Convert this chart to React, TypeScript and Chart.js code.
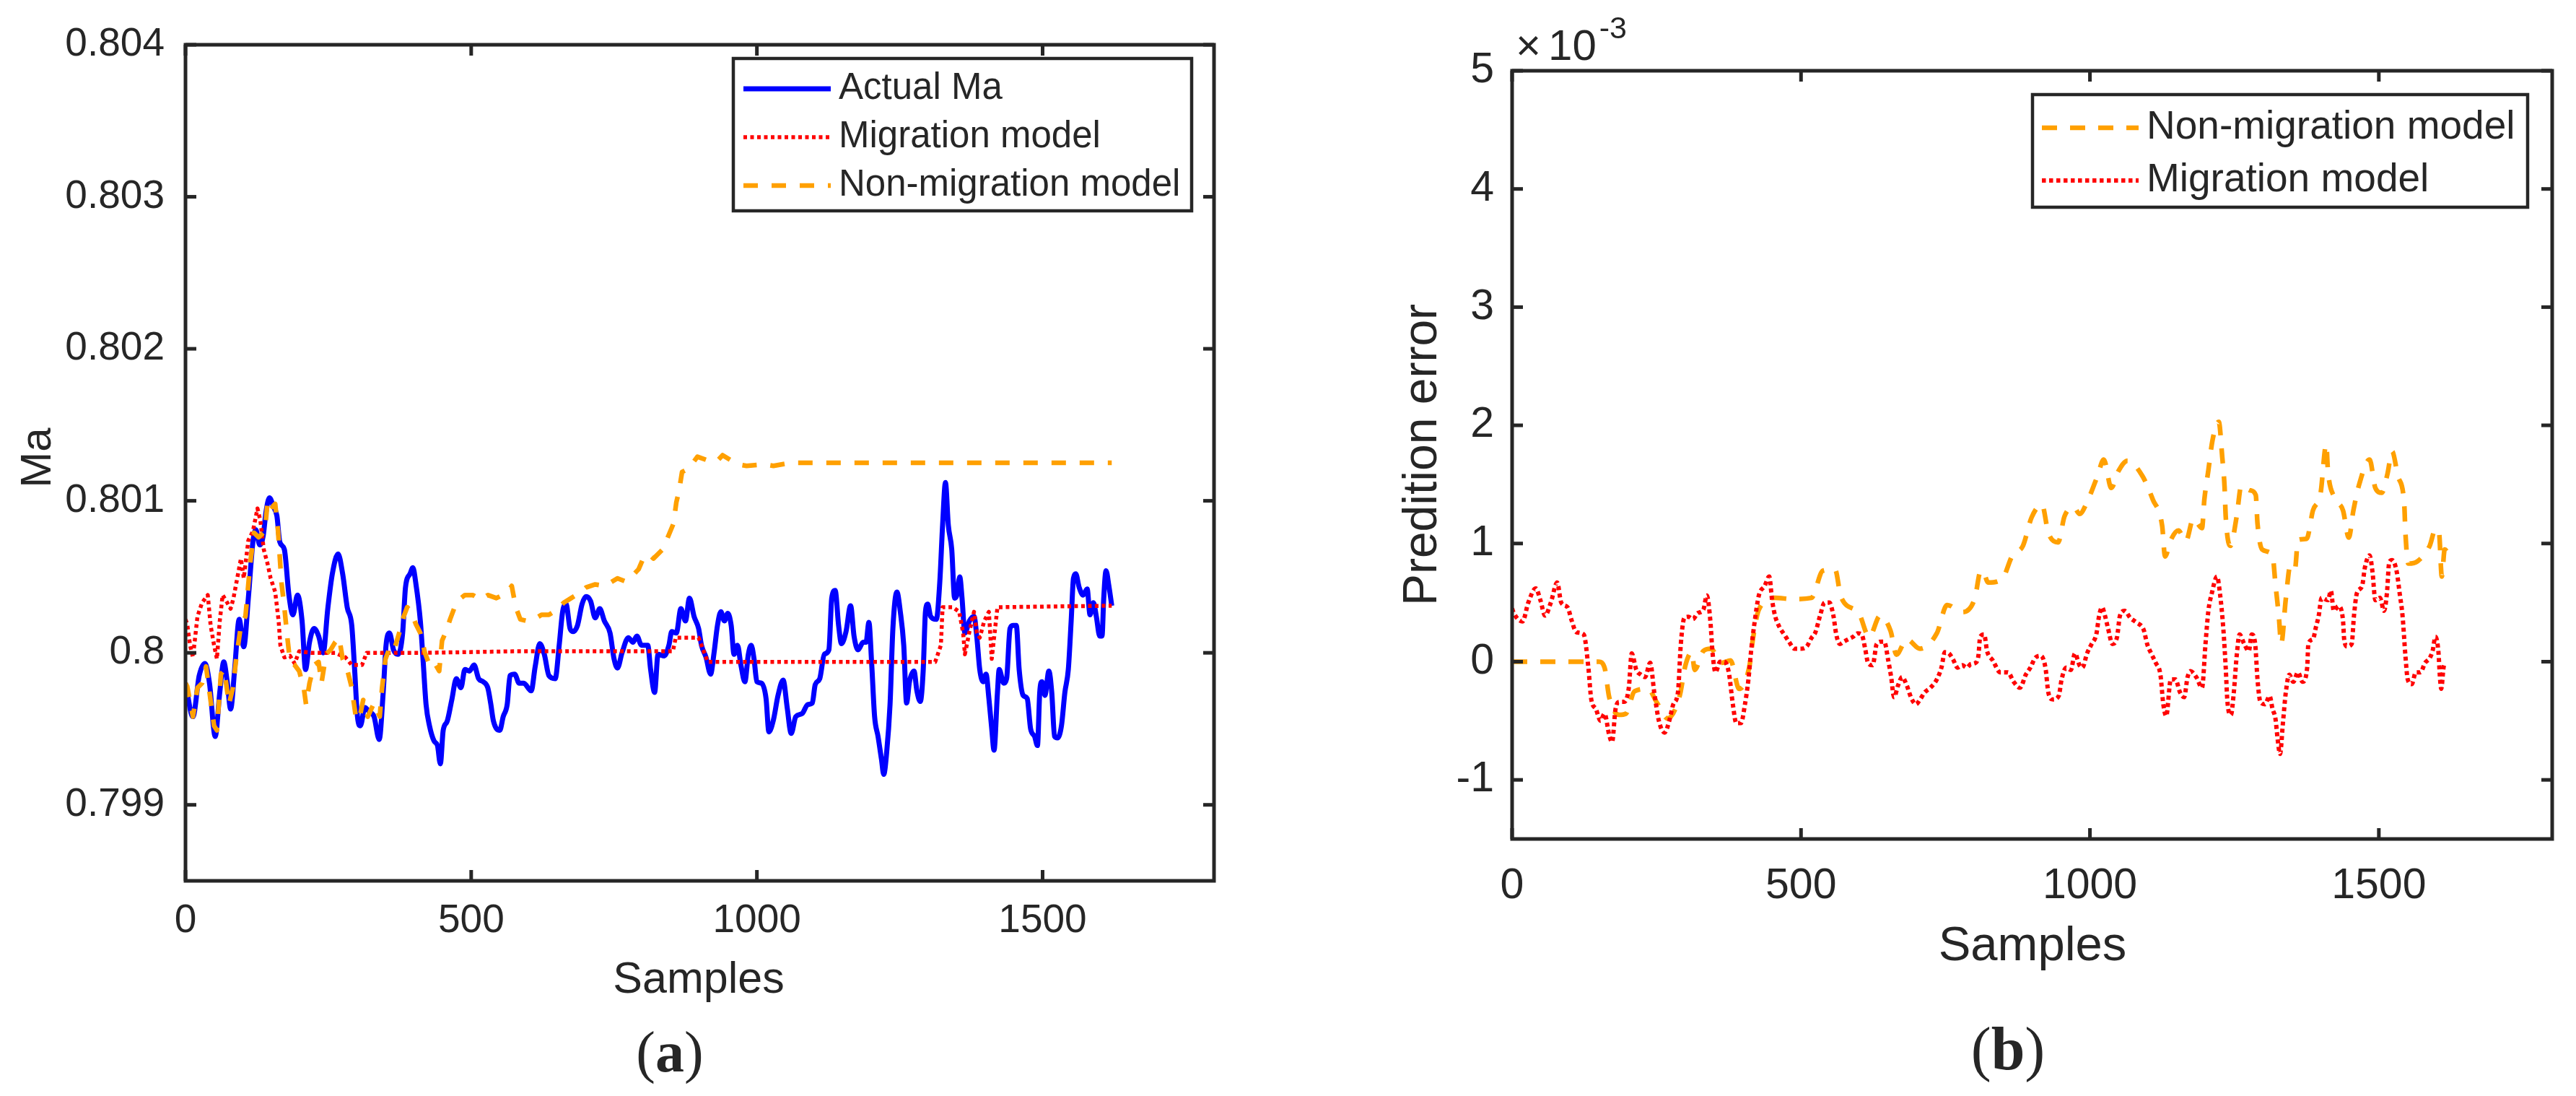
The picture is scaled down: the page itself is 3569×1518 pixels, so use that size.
import React, { useEffect, useRef } from 'react';
import { Chart, ChartConfiguration, Plugin, registerables } from 'chart.js';

Chart.register(...registerables);

const SANS = '"Liberation Sans", Arial, Helvetica, sans-serif';
const SERIF = '"Liberation Serif", "Times New Roman", serif';
const INK = '#262626';
const BLUE = '#0000FF';
const RED = '#FF0000';
const ORANGE = '#FFA000';

// shared x axis
const sampleTicks = [0, 500, 1000, 1500];
const sampleMax = 1800;

// (a) Mach number
const maTicks = [0.799, 0.8, 0.801, 0.802, 0.803, 0.804];
const actualX = [0,13,24,34,42,52,60,67,73,79,86,94,102,110,118,123,130,136,141,147,154,160,165,173,181,188,196,204,210,217,225,233,241,249,257,267,275,283,291,296,301,306,314,322,330,339,346,351,357,364,372,380,385,393,398,403,411,416,421,427,435,441,446,451,458,466,474,482,489,497,505,513,521,529,534,539,550,556,563,568,576,584,592,605,612,620,628,636,647,654,660,666,673,678,686,694,701,709,717,725,733,743,750,756,764,775,783,790,798,809,814,821,827,838,846,851,859,867,875,882,890,898,903,911,919,925,931,937,943,949,955,960,966,972,979,985,990,995,1000,1008,1016,1021,1029,1037,1046,1053,1060,1068,1079,1089,1097,1102,1110,1118,1126,1131,1137,1143,1148,1156,1164,1170,1177,1186,1191,1196,1201,1206,1212,1218,1222,1227,1233,1238,1245,1251,1257,1262,1267,1275,1280,1286,1291,1295,1299,1304,1314,1320,1325,1330,1335,1341,1346,1350,1355,1359,1364,1372,1380,1385,1390,1396,1401,1406,1411,1415,1421,1424,1432,1437,1443,1448,1454,1459,1466,1473,1479,1486,1491,1495,1499,1504,1511,1516,1521,1526,1533,1539,1545,1550,1554,1558,1564,1571,1578,1583,1589,1594,1600,1604,1607,1611,1616,1621];
const actualMa = [0.79980,0.79958,0.79985,0.79993,0.79980,0.79945,0.79974,0.79994,0.79981,0.79963,0.79989,0.80022,0.80004,0.80036,0.80073,0.80081,0.80071,0.80077,0.80093,0.80102,0.80096,0.80090,0.80073,0.80068,0.80038,0.80025,0.80038,0.80021,0.79989,0.80007,0.80016,0.80011,0.80000,0.80029,0.80052,0.80065,0.80052,0.80030,0.80018,0.79989,0.79958,0.79952,0.79964,0.79961,0.79958,0.79943,0.79974,0.80005,0.80013,0.80002,0.79999,0.80013,0.80043,0.80052,0.80056,0.80046,0.80021,0.79994,0.79966,0.79952,0.79942,0.79939,0.79927,0.79949,0.79955,0.79969,0.79983,0.79977,0.79989,0.79988,0.79992,0.79983,0.79981,0.79977,0.79967,0.79955,0.79949,0.79958,0.79966,0.79985,0.79986,0.79980,0.79980,0.79975,0.79991,0.80006,0.79999,0.79985,0.79983,0.80005,0.80027,0.80032,0.80016,0.80014,0.80018,0.80032,0.80037,0.80034,0.80023,0.80029,0.80021,0.80013,0.79996,0.79990,0.80000,0.80010,0.80007,0.80011,0.80005,0.80005,0.79989,0.79974,0.79999,0.79998,0.80005,0.80014,0.80013,0.80029,0.80021,0.80036,0.80024,0.80016,0.80005,0.79997,0.79986,0.80000,0.80018,0.80027,0.80021,0.80026,0.80018,0.79999,0.80005,0.79992,0.79981,0.79999,0.80005,0.79996,0.79981,0.79980,0.79970,0.79948,0.79956,0.79972,0.79982,0.79964,0.79947,0.79958,0.79960,0.79966,0.79967,0.79979,0.79983,0.79999,0.80002,0.80036,0.80041,0.80018,0.80006,0.80014,0.80031,0.80011,0.80002,0.80007,0.80007,0.80020,0.79992,0.79958,0.79945,0.79930,0.79920,0.79934,0.79966,0.80016,0.80040,0.80027,0.80005,0.79967,0.79981,0.79988,0.79975,0.79968,0.79988,0.80027,0.80032,0.80024,0.80022,0.80046,0.80084,0.80112,0.80084,0.80068,0.80036,0.80038,0.80050,0.80036,0.80013,0.80021,0.80024,0.80010,0.79989,0.79981,0.79986,0.79970,0.79950,0.79936,0.79974,0.79989,0.79980,0.79983,0.80016,0.80018,0.80018,0.79989,0.79972,0.79970,0.79950,0.79945,0.79939,0.79974,0.79981,0.79972,0.79988,0.79974,0.79945,0.79944,0.79952,0.79974,0.79989,0.80021,0.80049,0.80052,0.80043,0.80038,0.80042,0.80025,0.80033,0.80024,0.80011,0.80011,0.80036,0.80054,0.80044,0.80031];
const migX = [0,3,8,13,21,29,39,44,50,55,60,65,73,79,84,92,97,102,110,118,126,131,137,144,149,157,163,166,173,183,191,199,220,262,280,291,309,317,419,576,853,858,861,898,906,914,1312,1322,1325,1343,1354,1361,1364,1372,1380,1385,1390,1398,1406,1411,1416,1421,1621];
const migMa = [0.80022,0.80019,0.80005,0.79997,0.80024,0.80033,0.80038,0.80018,0.80005,0.79996,0.80021,0.80038,0.80033,0.80029,0.80036,0.80052,0.80062,0.80049,0.80074,0.80080,0.80095,0.80087,0.80068,0.80058,0.80049,0.80040,0.80021,0.80005,0.79997,0.79998,0.79993,0.80001,0.80000,0.80000,0.79997,0.79992,0.79992,0.80000,0.80000,0.80001,0.80001,0.80010,0.80010,0.80010,0.80002,0.79994,0.79994,0.80005,0.80030,0.80030,0.80027,0.80013,0.79999,0.80014,0.80027,0.80013,0.80010,0.80021,0.80027,0.79996,0.80013,0.80030,0.80031];
const nonMigX = [0,3,13,21,29,36,42,50,55,62,68,76,83,89,97,105,113,120,128,139,144,152,157,162,168,173,178,183,191,199,207,211,217,225,233,238,246,254,262,269,275,283,291,298,304,311,319,330,340,344,350,359,366,374,382,388,395,403,411,419,427,435,444,449,456,463,471,482,489,503,516,529,544,555,565,571,578,586,597,610,623,636,649,662,675,688,701,717,733,743,756,770,783,793,801,811,819,835,843,854,859,864,869,880,896,911,930,940,966,982,1013,1029,1060,1621];
const nonMigMa = [0.79980,0.79978,0.79958,0.79977,0.79980,0.79991,0.79974,0.79952,0.79949,0.79986,0.79989,0.79966,0.79977,0.79997,0.80018,0.80024,0.80058,0.80079,0.80076,0.80080,0.80101,0.80096,0.80098,0.80080,0.80046,0.80030,0.80011,0.79994,0.79992,0.79988,0.79977,0.79966,0.79980,0.79992,0.79994,0.79980,0.79999,0.80002,0.80007,0.80010,0.79996,0.79989,0.79977,0.79958,0.79956,0.79969,0.79958,0.79967,0.79958,0.79977,0.79996,0.80005,0.80003,0.80013,0.80024,0.80030,0.80027,0.80019,0.80013,0.80000,0.79992,0.79994,0.79988,0.80008,0.80014,0.80022,0.80030,0.80036,0.80038,0.80038,0.80035,0.80038,0.80036,0.80038,0.80041,0.80044,0.80030,0.80022,0.80021,0.80022,0.80025,0.80025,0.80028,0.80033,0.80036,0.80039,0.80043,0.80045,0.80044,0.80046,0.80049,0.80047,0.80051,0.80055,0.80062,0.80065,0.80062,0.80068,0.80075,0.80085,0.80099,0.80107,0.80119,0.80121,0.80129,0.80127,0.80126,0.80130,0.80124,0.80123,0.80124,0.80123,0.80125,0.80125];

// (b) prediction error, in units of 1e-3
const errTicks = [-1, 0, 1, 2, 3, 4, 5];
const errNonX = [0,119,150,160,168,185,197,212,235,251,269,290,300,311,316,331,344,362,378,393,411,417,427,455,486,518,538,559,569,600,618,637,655,665,683,706,735,753,779,801,810,814,824,848,866,884,899,917,928,945,956,972,982,995,1013,1024,1037,1049,1065,1091,1109,1125,1130,1140,1153,1166,1179,1194,1198,1205,1212,1223,1229,1233,1235,1243,1254,1262,1277,1287,1290,1298,1316,1321,1327,1331,1339,1347,1355,1360,1375,1386,1399,1409,1412,1423,1438,1448,1456,1466,1484,1494,1505,1515,1523,1533,1544,1546,1551,1567,1588,1598,1604,1609,1614,1620];
const errNon = [0,0,0,-0.05,-0.3,-0.45,-0.44,-0.25,-0.23,-0.35,-0.48,-0.29,-0.03,0.08,-0.07,0.09,0.11,-0.01,0.01,-0.23,-0.03,0.2,0.44,0.54,0.53,0.54,0.77,0.78,0.55,0.41,0.21,0.39,0.26,0.06,0.19,0.11,0.24,0.48,0.42,0.54,0.76,0.77,0.67,0.7,0.9,0.98,1.22,1.33,1.09,1.01,1.23,1.31,1.25,1.35,1.57,1.71,1.47,1.61,1.7,1.57,1.37,1.15,0.89,1.03,1.11,1.02,1.21,1.13,1.37,1.62,1.87,2.03,1.73,1.48,1.23,0.98,1.23,1.49,1.45,1.41,1.17,0.95,0.9,0.66,0.38,0.15,0.53,0.82,0.79,1.03,1.04,1.28,1.42,1.84,1.61,1.39,1.28,1.05,1.28,1.5,1.71,1.47,1.43,1.59,1.78,1.57,1.33,1.09,0.83,0.85,0.98,1.12,1.1,0.72,0.95,0.92];
const errMigX = [0,3,18,28,41,49,57,67,78,85,96,103,111,124,132,137,145,153,160,168,173,179,186,194,202,207,215,223,230,239,246,254,264,272,279,287,292,298,305,313,321,331,337,343,347,352,360,367,375,382,388,396,403,409,414,419,427,437,445,450,455,463,471,479,489,499,510,518,525,533,541,549,556,561,567,574,582,590,598,605,611,616,624,631,639,644,651,656,661,668,675,683,691,699,706,714,724,735,743,749,756,763,771,779,787,794,802,807,810,817,822,832,845,858,868,879,889,897,905,915,923,928,936,946,951,959,967,974,982,987,995,1003,1011,1016,1021,1026,1031,1039,1047,1052,1060,1070,1081,1093,1099,1106,1114,1122,1127,1132,1140,1148,1156,1163,1169,1174,1184,1194,1200,1205,1211,1220,1225,1231,1235,1238,1244,1249,1254,1259,1267,1275,1280,1286,1290,1295,1303,1311,1316,1321,1325,1329,1334,1339,1345,1352,1360,1368,1376,1378,1386,1391,1396,1401,1412,1417,1422,1430,1438,1440,1445,1453,1457,1462,1471,1476,1484,1489,1494,1502,1509,1514,1518,1523,1531,1536,1541,1546,1550,1557,1564,1572,1580,1588,1593,1598,1603,1606,1608,1612,1616];
const errMig = [0.45,0.41,0.34,0.50,0.62,0.52,0.39,0.50,0.67,0.50,0.46,0.35,0.25,0.23,-0.05,-0.32,-0.40,-0.50,-0.44,-0.62,-0.68,-0.40,-0.34,-0.34,-0.22,0.07,-0.07,-0.11,-0.13,-0.01,-0.26,-0.50,-0.60,-0.50,-0.36,-0.26,0.15,0.37,0.38,0.36,0.41,0.44,0.56,0.35,0.07,-0.09,0.00,0.00,-0.09,-0.36,-0.52,-0.52,-0.36,-0.15,0.11,0.31,0.56,0.64,0.72,0.52,0.39,0.29,0.23,0.17,0.11,0.11,0.13,0.20,0.25,0.39,0.50,0.50,0.39,0.23,0.15,0.17,0.19,0.21,0.24,0.23,0.11,-0.01,-0.03,0.15,0.17,0.17,0.01,-0.13,-0.30,-0.20,-0.13,-0.20,-0.31,-0.36,-0.32,-0.26,-0.22,-0.15,-0.05,0.08,0.07,0.02,-0.05,-0.03,-0.05,-0.02,-0.01,0.05,0.21,0.23,0.09,0.01,-0.09,-0.09,-0.17,-0.22,-0.11,-0.05,0.03,0.05,-0.05,-0.26,-0.32,-0.29,-0.15,-0.05,-0.07,0.07,-0.03,-0.05,0.07,0.15,0.23,0.39,0.46,0.39,0.29,0.15,0.21,0.39,0.43,0.37,0.33,0.27,0.15,0.07,-0.01,-0.11,-0.36,-0.46,-0.15,-0.15,-0.26,-0.30,-0.13,-0.08,-0.13,-0.22,0.15,0.43,0.58,0.72,0.58,0.27,-0.05,-0.34,-0.45,-0.26,0.05,0.23,0.15,0.09,0.23,0.15,-0.15,-0.34,-0.36,-0.29,-0.40,-0.48,-0.66,-0.78,-0.52,-0.26,-0.11,-0.17,-0.09,-0.17,-0.05,0.15,0.19,0.29,0.39,0.54,0.52,0.60,0.43,0.47,0.35,0.19,0.13,0.15,0.39,0.58,0.64,0.80,0.90,0.76,0.52,0.54,0.43,0.58,0.84,0.86,0.76,0.58,0.39,0.05,-0.15,-0.19,-0.09,-0.09,-0.01,0.03,0.09,0.21,0.09,-0.15,-0.23,-0.05,-0.01];

const toPoints = (xs: number[], ys: number[]) => xs.map((x, i) => ({ x, y: ys[i] }));

interface Series { label: string; color: string; width: number; dash: number[]; order: number; smooth: boolean; points: { x: number; y: number }[]; }
interface TextSpec { text: string; x: number; y: number; size: number; }
interface PanelSpec {
  pageLeft: number;
  width: number;
  height: number;
  area: { left: number; top: number; right: number; bottom: number };
  yMin: number;
  yMax: number;
  yTicks: number[];
  tickSize: number;
  yTickPad: number;
  xTickPad: number;
  series: Series[];
  legendOrder: number[];
  legend: { box: [number, number, number, number]; rows: number[]; sample: [number, number]; textX: number; size: number };
  xTitle: TextSpec;
  yTitle: TextSpec;
  caption: { letter: string; x: number; y: number; size: number };
  exponent?: { x: number; y: number; size: number };
}

const X_AXIS_H = 150;

const framePlugin = (p: PanelSpec): Plugin<'line'> => ({
  id: 'matlabFrame',
  afterDraw(chart) {
    const { ctx, chartArea: a } = chart;
    const xs = chart.scales.x;
    const ys = chart.scales.y;
    const seg = (x1: number, y1: number, x2: number, y2: number) => {
      ctx.beginPath();
      ctx.moveTo(x1, y1);
      ctx.lineTo(x2, y2);
      ctx.stroke();
    };
    ctx.save();
    ctx.strokeStyle = INK;
    ctx.lineWidth = 5;
    const tl = 15;
    sampleTicks.forEach((v) => {
      const px = xs.getPixelForValue(v);
      seg(px, a.bottom, px, a.bottom - tl);
      seg(px, a.top, px, a.top + tl);
    });
    p.yTicks.forEach((v) => {
      const py = ys.getPixelForValue(v);
      seg(a.left, py, a.left + tl, py);
      seg(a.right, py, a.right - tl, py);
    });
    ctx.strokeRect(a.left, a.top, a.right - a.left, a.bottom - a.top);

    // legend box, MATLAB style
    const [l, t, r, b] = p.legend.box;
    ctx.fillStyle = '#ffffff';
    ctx.fillRect(l, t, r - l, b - t);
    ctx.lineWidth = 4.5;
    ctx.strokeRect(l, t, r - l, b - t);
    ctx.font = `${p.legend.size}px ${SANS}`;
    ctx.textBaseline = 'middle';
    ctx.textAlign = 'left';
    p.legendOrder.forEach((si, i) => {
      const s = p.series[si];
      const y = p.legend.rows[i];
      ctx.save();
      ctx.strokeStyle = s.color;
      ctx.lineWidth = s.width;
      ctx.setLineDash(s.dash);
      seg(p.legend.sample[0], y, p.legend.sample[1], y);
      ctx.restore();
      ctx.fillStyle = INK;
      ctx.fillText(s.label, p.legend.textX, y);
    });

    // axis titles
    ctx.fillStyle = INK;
    ctx.textBaseline = 'alphabetic';
    ctx.textAlign = 'center';
    ctx.font = `${p.xTitle.size}px ${SANS}`;
    ctx.fillText(p.xTitle.text, p.xTitle.x, p.xTitle.y);
    ctx.save();
    ctx.translate(p.yTitle.x, p.yTitle.y);
    ctx.rotate(-Math.PI / 2);
    ctx.font = `${p.yTitle.size}px ${SANS}`;
    ctx.fillText(p.yTitle.text, 0, 0);
    ctx.restore();

    // exponent label
    if (p.exponent) {
      const e = p.exponent;
      ctx.textAlign = 'left';
      ctx.font = `${e.size}px ${SANS}`;
      ctx.fillText('\u00d7', e.x, e.y);
      const wx = ctx.measureText('\u00d7').width;
      ctx.fillText('10', e.x + wx + 10, e.y);
      const w10 = ctx.measureText('10').width;
      ctx.font = `${Math.round(e.size * 0.72)}px ${SANS}`;
      ctx.fillText('-3', e.x + wx + 10 + w10 + 4, e.y - e.size * 0.5);
    }

    // sub-figure caption: (a) / (b)
    const c = p.caption;
    const plain = `${c.size}px ${SERIF}`;
    const bold = `bold ${c.size}px ${SERIF}`;
    ctx.font = plain;
    const wp = ctx.measureText('(').width;
    const wq = ctx.measureText(')').width;
    ctx.font = bold;
    const wl = ctx.measureText(c.letter).width;
    let cx = c.x - (wp + wl + wq) / 2;
    ctx.textAlign = 'left';
    ctx.font = plain;
    ctx.fillText('(', cx, c.y);
    cx += wp;
    ctx.font = bold;
    ctx.fillText(c.letter, cx, c.y);
    cx += wl;
    ctx.font = plain;
    ctx.fillText(')', cx, c.y);
    ctx.restore();
  },
});

const Panel: React.FC<{ spec: PanelSpec }> = ({ spec }) => {
  const canvasRef = useRef<HTMLCanvasElement>(null);
  const chartRef = useRef<Chart | null>(null);

  useEffect(() => {
    if (!canvasRef.current) return;
    if (chartRef.current) chartRef.current.destroy();
    const ctx = canvasRef.current.getContext('2d');
    if (!ctx) return;

    const a = spec.area;
    const tickFont = { family: SANS, size: spec.tickSize };

    const config: ChartConfiguration<'line'> = {
      type: 'line',
      data: {
        datasets: spec.series.map((s) => ({
          label: s.label,
          data: s.points,
          borderColor: s.color,
          backgroundColor: s.color,
          borderWidth: s.width,
          borderDash: s.dash,
          borderCapStyle: 'butt',
          borderJoinStyle: 'round',
          pointRadius: 0,
          fill: false,
          order: s.order,
          tension: 0,
          cubicInterpolationMode: s.smooth ? 'monotone' : 'default',
        })),
      },
      options: {
        responsive: false,
        animation: false,
        devicePixelRatio: 1,
        events: [],
        layout: {
          padding: {
            left: 0,
            top: a.top,
            right: spec.width - a.right,
            bottom: spec.height - a.bottom - X_AXIS_H,
          },
        },
        plugins: {
          legend: { display: false },
          tooltip: { enabled: false },
        },
        scales: {
          x: {
            type: 'linear',
            min: 0,
            max: sampleMax,
            grid: { display: false, drawTicks: false },
            border: { display: false },
            ticks: {
              font: tickFont,
              color: INK,
              padding: spec.xTickPad,
              maxRotation: 0,
              autoSkip: false,
              callback: (v) => String(v),
            },
            afterBuildTicks: (s) => {
              s.ticks = sampleTicks.map((value) => ({ value }));
            },
            afterFit: (s) => {
              s.height = X_AXIS_H;
            },
          },
          y: {
            type: 'linear',
            min: spec.yMin,
            max: spec.yMax,
            grid: { display: false, drawTicks: false },
            border: { display: false },
            ticks: {
              font: tickFont,
              color: INK,
              padding: spec.yTickPad,
              autoSkip: false,
              callback: (v) => String(v),
            },
            afterBuildTicks: (s) => {
              s.ticks = spec.yTicks.map((value) => ({ value }));
            },
            afterFit: (s) => {
              s.width = a.left;
            },
          },
        },
      },
      plugins: [framePlugin(spec)],
    };

    chartRef.current = new Chart(ctx, config);
    return () => {
      if (chartRef.current) {
        chartRef.current.destroy();
        chartRef.current = null;
      }
    };
  }, [spec]);

  return (
    <canvas
      ref={canvasRef}
      width={spec.width}
      height={spec.height}
      style={{ position: 'absolute', left: spec.pageLeft, top: 0, width: spec.width, height: spec.height }}
    />
  );
};

const panelA: PanelSpec = {
  pageLeft: 0,
  width: 1785,
  height: 1518,
  area: { left: 257, top: 52, right: 1682, bottom: 1220 },
  yMin: 0.7985,
  yMax: 0.804,
  yTicks: maTicks,
  tickSize: 55,
  yTickPad: 29,
  xTickPad: 23,
  series: [
    { label: 'Actual Ma', color: BLUE, width: 7, dash: [], order: 3, smooth: true, points: toPoints(actualX, actualMa) },
    { label: 'Migration model', color: RED, width: 5.5, dash: [5, 4.5], order: 2, smooth: false, points: toPoints(migX, migMa) },
    { label: 'Non-migration model', color: ORANGE, width: 6.5, dash: [20, 19], order: 1, smooth: false, points: toPoints(nonMigX, nonMigMa) },
  ],
  legendOrder: [0, 1, 2],
  legend: { box: [1016, 81, 1651, 292], rows: [123, 190, 257], sample: [1030, 1151], textX: 1162, size: 51 },
  xTitle: { text: 'Samples', x: 968, y: 1375, size: 61 },
  yTitle: { text: 'Ma', x: 70, y: 634, size: 60 },
  caption: { letter: 'a', x: 928, y: 1484, size: 80 },
};

const panelB: PanelSpec = {
  pageLeft: 1785,
  width: 1784,
  height: 1518,
  area: { left: 310, top: 98, right: 1751, bottom: 1162 },
  yMin: -1.5,
  yMax: 5,
  yTicks: errTicks,
  tickSize: 59,
  yTickPad: 25,
  xTickPad: 30,
  series: [
    { label: 'Non-migration model', color: ORANGE, width: 6.5, dash: [21, 18], order: 2, smooth: true, points: toPoints(errNonX, errNon) },
    { label: 'Migration model', color: RED, width: 6, dash: [5.5, 4.5], order: 1, smooth: true, points: toPoints(errMigX, errMig) },
  ],
  legendOrder: [0, 1],
  legend: { box: [1031, 131, 1717, 287], rows: [177, 250], sample: [1044, 1178], textX: 1189, size: 55 },
  xTitle: { text: 'Samples', x: 1031, y: 1330, size: 67 },
  yTitle: { text: 'Predition error', x: 205, y: 630, size: 66 },
  caption: { letter: 'b', x: 997, y: 1481, size: 84 },
  exponent: { x: 315, y: 83, size: 60 },
};

export default function App() {
  return (
    <div style={{ position: 'absolute', left: 0, top: 0, width: 3569, height: 1518, background: '#ffffff', overflow: 'hidden' }}>
      <Panel spec={panelA} />
      <Panel spec={panelB} />
    </div>
  );
}
